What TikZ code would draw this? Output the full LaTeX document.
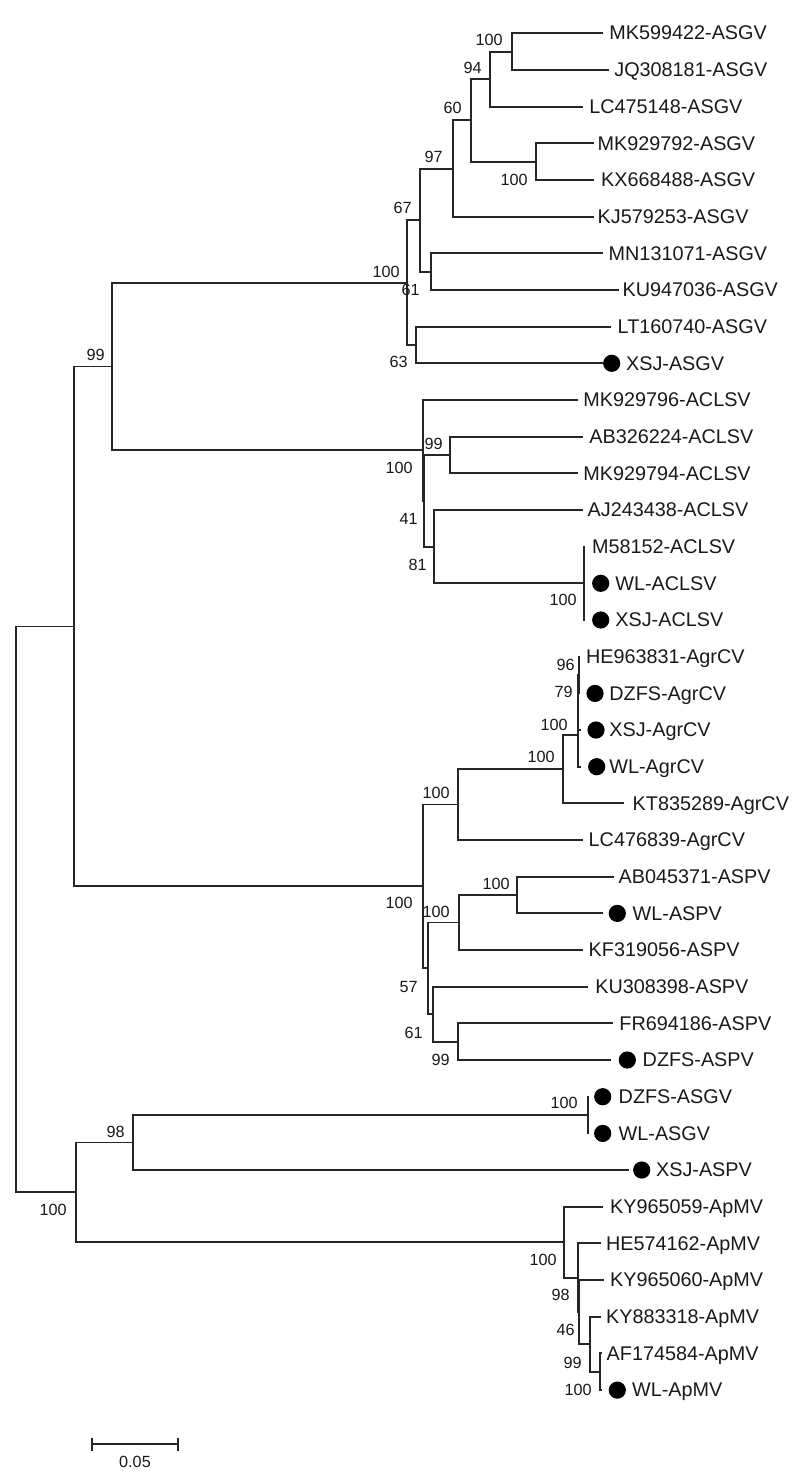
\documentclass[tikz,border=0pt]{standalone}
\usepackage{fontspec}
\setmainfont{Liberation Sans}
\newcommand{\myleaf}[5]{\coordinate (L#1) at (#2,#3); \node[leaf] (t#1) at (#4-1,#3+6.7) {#5};}
\newcommand{\mydleaf}[6]{\coordinate (L#1) at (#2,#3); \node[dotm] (d#1) at (#4,#3) {}; \node[leaf] (t#1) at (#5-1,#3+6.7) {#6};}
\newcommand{\inode}[5]{\coordinate (#1) at (#2,#3); \draw[br] (#4) -| (#1) |- (#5);}
\newcommand{\bsup}[4]{\node[sup] (s#1) at (#2,#3+5.75) {#4};}
\begin{document}
\begin{tikzpicture}[x=0.5pt,y=-0.5pt,
  br/.style={line width=0.95pt, draw=black!85, line cap=rect},
  leaf/.style={anchor=base west, inner sep=0pt, text=black!90, font=\fontsize{9.9}{11}\selectfont},
  sup/.style={anchor=base east, inner sep=0pt, text=black!90, font=\fontsize{8.1}{9}\selectfont},
  dotm/.style={circle, fill=black, inner sep=0pt, minimum size=8.6pt}]
\useasboundingbox (0,0) rectangle (800,1477);
% leaves
\myleaf{1}{601.7}{33.3}{610}{MK599422-ASGV}
\myleaf{2}{608.3}{70.0}{615}{JQ308181-ASGV}
\myleaf{3}{581.7}{106.6}{590}{LC475148-ASGV}
\myleaf{4}{593.3}{143.3}{598.3}{MK929792-ASGV}
\myleaf{5}{593.3}{180.0}{601.7}{KX668488-ASGV}
\myleaf{6}{593.3}{216.7}{598.3}{KJ579253-ASGV}
\myleaf{7}{601.7}{253.3}{609.3}{MN131071-ASGV}
\myleaf{8}{618.3}{290.0}{623.3}{KU947036-ASGV}
\myleaf{9}{610}{326.7}{618.3}{LT160740-ASGV}
\mydleaf{10}{601.7}{363.3}{611.7}{626.7}{XSJ-ASGV}
\myleaf{11}{576.7}{400.0}{584}{MK929796-ACLSV}
\myleaf{12}{581.7}{436.7}{590}{AB326224-ACLSV}
\myleaf{13}{576.7}{473.3}{584}{MK929794-ACLSV}
\myleaf{14}{581.7}{510.0}{588.3}{AJ243438-ACLSV}
\myleaf{15}{584}{546.7}{592.7}{M58152-ACLSV}
\mydleaf{16}{584}{583.3}{600.7}{616}{WL-ACLSV}
\mydleaf{17}{584}{620.0}{600.7}{616}{XSJ-ACLSV}
\myleaf{18}{579}{656.7}{586.7}{HE963831-AgrCV}
\mydleaf{19}{579}{693.4}{595}{610}{DZFS-AgrCV}
\mydleaf{20}{580}{730.0}{596}{610}{XSJ-AgrCV}
\mydleaf{21}{580}{766.7}{596.7}{610}{WL-AgrCV}
\myleaf{22}{623.3}{803.4}{633.3}{KT835289-AgrCV}
\myleaf{23}{581.7}{840.0}{589.3}{LC476839-AgrCV}
\myleaf{24}{613.3}{876.7}{619.3}{AB045371-ASPV}
\mydleaf{25}{601.7}{913.4}{617.3}{633.3}{WL-ASPV}
\myleaf{26}{581.7}{950.0}{589.3}{KF319056-ASPV}
\myleaf{27}{587.3}{986.7}{596}{KU308398-ASPV}
\myleaf{28}{612.3}{1023.4}{620}{FR694186-ASPV}
\mydleaf{29}{610}{1060.0}{627.3}{643.3}{DZFS-ASPV}
\mydleaf{30}{587.7}{1096.7}{602.7}{619.3}{DZFS-ASGV}
\mydleaf{31}{587.7}{1133.4}{602.7}{619.3}{WL-ASGV}
\mydleaf{32}{628.3}{1170.0}{641.7}{656.7}{XSJ-ASPV}
\myleaf{33}{601.7}{1206.7}{610.7}{KY965059-ApMV}
\myleaf{34}{600}{1243.4}{606.7}{HE574162-ApMV}
\myleaf{35}{602.7}{1280.1}{610.7}{KY965060-ApMV}
\myleaf{36}{600}{1316.7}{606.7}{KY883318-ApMV}
\myleaf{37}{600.7}{1353.4}{607.3}{AF174584-ApMV}
\mydleaf{38}{600.7}{1390.1}{617.3}{632.7}{WL-ApMV}
% ASGV clade
\inode{a1}{511.7}{51.65}{L1}{L2}
\inode{a2}{490}{79.1}{a1}{L3}
\inode{a3}{536}{161.65}{L4}{L5}
\inode{a4}{470.7}{120.4}{a2}{a3}
\inode{a5}{452.7}{168.55}{a4}{L6}
\inode{a6}{430.7}{271.65}{L7}{L8}
\inode{a7}{420}{220.1}{a5}{a6}
\inode{a8}{415.7}{345}{L9}{L10}
\inode{a9}{406.7}{282.55}{a7}{a8}
% ACLSV clade
\inode{b1}{450}{455}{L12}{L13}
\inode{b2}{584}{583.35}{L15}{L17}
\inode{b3}{434.3}{546.7}{L14}{b2}
\inode{b4}{424.3}{500.85}{b1}{b3}
\inode{b5}{422.7}{450.4}{L11}{b4}
\inode{c0}{111.7}{366.5}{a9}{b5}
% AgrCV clade
\inode{d1}{579}{675.05}{L18}{L19}
\inode{d2}{578.3}{702.5}{d1}{L20}
\inode{d3}{577.7}{734.6}{d2}{L21}
\inode{d4}{563.3}{769}{d3}{L22}
\inode{d5}{458.3}{804.5}{d4}{L23}
% ASPV clade
\inode{e1}{517.3}{895.05}{L24}{L25}
\inode{e2}{459.3}{922.5}{e1}{L26}
\inode{e3}{458.3}{1041.7}{L28}{L29}
\inode{e4}{433.3}{1014.2}{L27}{e3}
\inode{e5}{427.7}{968.35}{e2}{e4}
\inode{f1}{422.7}{886.4}{d5}{e5}
\inode{g1}{74}{626.45}{c0}{f1}
% lower part
\inode{h1}{587.7}{1115.05}{L30}{L31}
\inode{h2}{133.3}{1142.5}{h1}{L32}
\inode{i1}{600}{1371.75}{L37}{L38}
\inode{i2}{590}{1344.2}{L36}{i1}
\inode{i3}{579.3}{1312.15}{L35}{i2}
\inode{i4}{577.7}{1277.8}{L34}{i3}
\inode{i5}{564.3}{1242.25}{L33}{i4}
\inode{j1}{75.7}{1192.4}{h2}{i5}
\inode{root}{16}{909.4}{g1}{j1}
% support values
\bsup{a1}{503}{40}{100}
\bsup{a2}{482}{68}{94}
\bsup{a4}{462}{108}{60}
\bsup{a3}{528}{180}{100}
\bsup{a5}{443}{157}{97}
\bsup{a7}{412}{208}{67}
\bsup{a6}{420}{290}{61}
\bsup{a9}{400}{272}{100}
\bsup{a8}{408}{362}{63}
\bsup{c0}{105}{355}{99}
\bsup{b5}{413}{468}{100}
\bsup{b1}{443}{444}{99}
\bsup{b4}{418}{519}{41}
\bsup{b3}{427}{565}{81}
\bsup{b2}{577}{600}{100}
\bsup{d1}{575}{665}{96}
\bsup{d2}{573}{692}{79}
\bsup{d3}{568}{725}{100}
\bsup{d4}{555}{757}{100}
\bsup{d5}{450}{793}{100}
\bsup{f1}{413}{903}{100}
\bsup{e1}{510}{884}{100}
\bsup{e2}{450}{912}{100}
\bsup{e5}{418}{987}{57}
\bsup{e4}{423}{1033}{61}
\bsup{e3}{450}{1060}{99}
\bsup{h1}{578}{1103}{100}
\bsup{h2}{125}{1132}{98}
\bsup{j1}{67}{1210}{100}
\bsup{i5}{557}{1260}{100}
\bsup{i4}{570}{1295}{98}
\bsup{i3}{575}{1330}{46}
\bsup{i2}{582}{1363}{99}
\bsup{i1}{592}{1390}{100}
% scale bar
\coordinate (sbA) at (92.3,1444);
\coordinate (sbB) at (178.3,1444);
\coordinate (sbA1) at (92.3,1437.5);
\coordinate (sbA2) at (92.3,1451);
\coordinate (sbB1) at (178.3,1437.5);
\coordinate (sbB2) at (178.3,1451);
\draw[br,line cap=butt] (sbA) -- (sbB);
\draw[br,line cap=butt] (sbA1) -- (sbA2);
\draw[br,line cap=butt] (sbB1) -- (sbB2);
\node[inner sep=0pt, text=black!90, font=\fontsize{8.1}{9}\selectfont] (sbl) at (135,1461.7) {0.05};
\end{tikzpicture}
\end{document}
